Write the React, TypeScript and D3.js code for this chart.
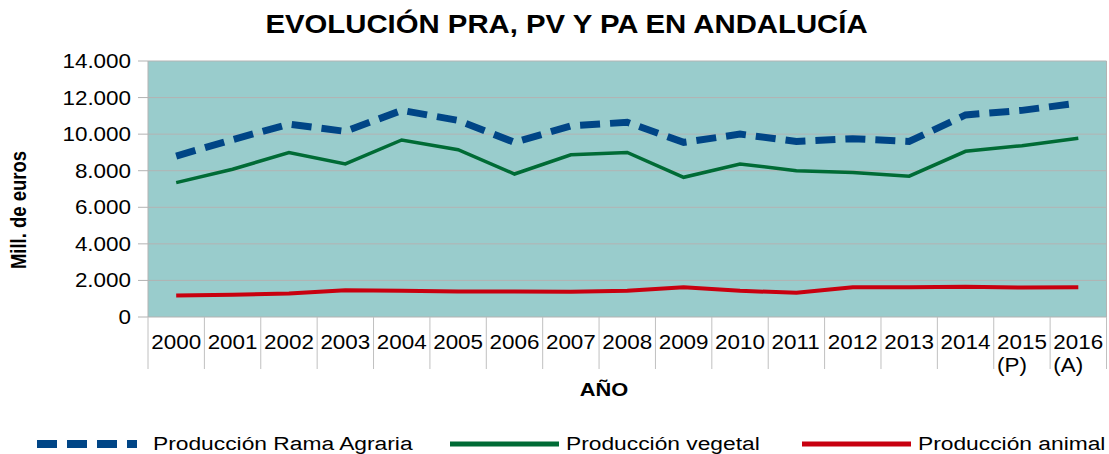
import { useMemo } from 'react';
import * as d3 from 'd3';

const years = ['2000', '2001', '2002', '2003', '2004', '2005', '2006', '2007', '2008', '2009', '2010', '2011', '2012', '2013', '2014', '2015', '2016'];
const yearNotes = ['', '', '', '', '', '', '', '', '', '', '', '', '', '', '', '(P)', '(A)'];
const produccionRamaAgraria = [8800, 9700, 10550, 10150, 11300, 10750, 9550, 10450, 10650, 9550, 10000, 9600, 9750, 9600, 11050, 11300, 11700];
const produccionVegetal = [7350, 8080, 8990, 8370, 9680, 9150, 7820, 8870, 9000, 7640, 8370, 8000, 7900, 7700, 9060, 9370, 9780];
const produccionAnimal = [1170, 1210, 1290, 1460, 1430, 1400, 1400, 1380, 1430, 1620, 1430, 1330, 1630, 1630, 1660, 1610, 1630];
const yTicks = [0, 2000, 4000, 6000, 8000, 10000, 12000, 14000];

const W = 1109;
const H = 454;
const plot = { left: 148, right: 1106.5, top: 61, bottom: 317 };
const FONT = '"Liberation Sans", Arial, sans-serif';
const SX = 1.15; // text in the reference is a bit wider than the font

const fmt = (v: number) => d3.format(',')(v).replace(/,/g, '.');

const App = () => {
  const x = useMemo(() => d3.scaleBand<string>().domain(years).range([plot.left, plot.right]).padding(0), []);
  const y = useMemo(() => d3.scaleLinear().domain([0, 14000]).range([plot.bottom, plot.top]), []);
  const cx = (i: number) => (x(years[i]) as number) + x.bandwidth() / 2;

  const line = d3
    .line<number>()
    .x((_, i) => cx(i))
    .y((d) => y(d));

  const series = [
    { key: 'Producción Rama Agraria', values: produccionRamaAgraria, color: '#004586', width: 7, dash: '20,10' },
    { key: 'Producción vegetal', values: produccionVegetal, color: '#006b35', width: 3.5, dash: undefined },
    { key: 'Producción animal', values: produccionAnimal, color: '#c8000f', width: 4, dash: undefined },
  ];

  const legendPos = [
    { x1: 37, x2: 137, tx: 153 },
    { x1: 450, x2: 559, tx: 566 },
    { x1: 802, x2: 911, tx: 918 },
  ];

  const boundaries = years.map((yr) => x(yr) as number).concat([plot.right]);
  const half = (2.224 * 19.5 * SX) / 2;

  return (
    <div style={{ position: 'absolute', left: 0, top: 0 }}>
      <svg width={W} height={H} style={{ display: 'block', background: '#fff' }} fontFamily={FONT}>
        {/* title */}
        <text transform={`translate(566.5,33.3) scale(1.15,1)`} textAnchor="middle" fontSize={25.5} fontWeight="bold" fill="#000">
          EVOLUCIÓN PRA, PV Y PA EN ANDALUCÍA
        </text>

        {/* plot wall */}
        <rect x={plot.left} y={plot.top} width={plot.right - plot.left} height={plot.bottom - plot.top} fill="#99cccc" />

        {/* gridlines + y ticks */}
        {yTicks.map((t) => (
          <g key={t}>
            <line x1={plot.left} x2={plot.right} y1={y(t)} y2={y(t)} stroke="#b3b3b3" strokeWidth={1} />
            <line x1={138} x2={plot.left} y1={y(t)} y2={y(t)} stroke="#b3b3b3" strokeWidth={1} />
            <text transform={`translate(131,${y(t) + 7}) scale(${SX},1)`} textAnchor="end" fontSize={19.5} fill="#000">
              {fmt(t)}
            </text>
          </g>
        ))}
        <line x1={plot.left} x2={plot.left} y1={plot.top} y2={plot.bottom} stroke="#b3b3b3" />
        <line x1={plot.right} x2={plot.right} y1={plot.top} y2={plot.bottom} stroke="#b3b3b3" />

        {/* x category ticks */}
        {boundaries.map((b, i) => (
          <line key={i} x1={b} x2={b} y1={plot.bottom} y2={369} stroke="#c0c0c0" strokeWidth={1} />
        ))}
        {years.map((yr, i) => (
          <text key={yr} transform={`translate(${cx(i) - half},349) scale(${SX},1)`} fontSize={19.5} fill="#000">
            <tspan x={0} y={0}>{yr}</tspan>
            {yearNotes[i] && (
              <tspan x={0} y={23.5}>
                {yearNotes[i]}
              </tspan>
            )}
          </text>
        ))}

        {/* axis titles */}
        <text transform={`translate(604,396) scale(${SX},1)`} textAnchor="middle" fontSize={19} fontWeight="bold">
          AÑO
        </text>
        <text transform={`translate(26,210) rotate(-90) scale(1,${SX})`} textAnchor="middle" fontSize={18.5} fontWeight="bold">
          Mill. de euros
        </text>

        {/* series */}
        {series.map((s) => (
          <path
            key={s.key}
            d={line(s.values) as string}
            fill="none"
            stroke={s.color}
            strokeWidth={s.width}
            strokeDasharray={s.dash}
            strokeLinejoin="miter"
          />
        ))}

        {/* legend */}
        {series.map((s, i) => (
          <g key={s.key}>
            <line
              x1={legendPos[i].x1}
              x2={legendPos[i].x2}
              y1={444}
              y2={444}
              stroke={s.color}
              strokeWidth={i === 0 ? 8 : 5}
              strokeDasharray={s.dash}
            />
            <text transform={`translate(${legendPos[i].tx},449.5) scale(1.2,1)`} fontSize={19} fill="#000">
              {s.key}
            </text>
          </g>
        ))}
      </svg>
    </div>
  );
};

export default App;
